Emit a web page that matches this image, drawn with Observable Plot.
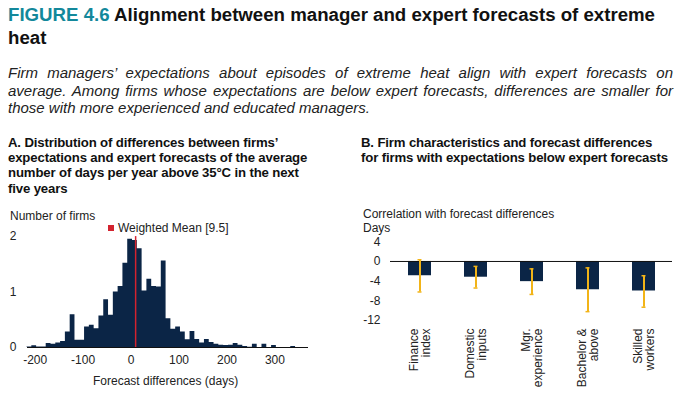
<!DOCTYPE html>
<html><head><meta charset="utf-8">
<script src="https://cdn.jsdelivr.net/npm/d3@7"></script>
<script src="https://cdn.jsdelivr.net/npm/@observablehq/plot@0.6"></script>
<style>
body{margin:0;background:#fff;}
#root{position:relative;width:682px;height:394px;overflow:hidden;font-family:"Liberation Sans",Arial,Helvetica,sans-serif;color:#111;}
.abs{position:absolute;white-space:nowrap;}
#title{left:8px;top:4px;font-weight:bold;font-size:18px;line-height:23px;color:#111;transform-origin:0 0;}
#title .fig{color:#13889b;}
#sub{left:8px;top:64px;width:665px;font-style:italic;font-size:15px;line-height:17.6px;color:#222;}
#sub div{text-align:justify;text-align-last:justify;}
#sub div.last{text-align-last:left;}
.ptitle{font-weight:bold;font-size:13.2px;line-height:15.2px;letter-spacing:-0.15px;color:#111;}
.lab{font-size:12px;line-height:14px;color:#222;}
#chartA{position:absolute;left:0;top:200px;}
#chartB{position:absolute;left:340px;top:200px;}
</style></head>
<body><div id="root">
<div id="title" class="abs"><span id="t1"><span class="fig">FIGURE 4.6</span> Alignment between manager and expert forecasts of extreme</span><br>heat</div>
<div id="sub" class="abs">
<div>Firm managers’ expectations about episodes of extreme heat align with expert forecasts on</div>
<div>average. Among firms whose expectations are below expert forecasts, differences are smaller for</div>
<div class="last">those with more experienced and educated managers.</div>
</div>
<div class="abs ptitle" style="left:8px;top:135px;">A. Distribution of differences between firms’<br>expectations and expert forecasts of the average<br>number of days per year above 35°C in the next<br>five years</div>
<div class="abs ptitle" style="left:361px;top:135px;">B. Firm characteristics and forecast differences<br>for firms with expectations below expert forecasts</div>
<div id="chartA"></div>
<div id="chartB"></div>
<div class="abs lab" style="left:10px;top:209px;">Number of firms</div>
<div class="abs lab" style="left:108px;top:221px;"><span style="display:inline-block;width:6px;height:6px;background:#d3232f;margin-right:4px;vertical-align:1px;"></span>Weighted Mean [9.5]</div>
<div class="abs lab" style="left:93px;top:374px;">Forecast differences (days)</div>
<div class="abs lab" style="left:363px;top:207px;">Correlation with forecast differences<br>Days</div>
</div>
<script>
// Panel A: histogram (lower bin edge in days, number of firms)
const binLo = [-217,-207,-197,-187,-177,-167,-157,-147,-137,-127,-117,-107,-97,-87,-77,-67,-57,-47,-37,-27,-17,-7,3,13,23,33,43,53,63,73,83,93,103,113,123,133,143,153,163,173,183,193,203,213,223,233,243,253,263,273,283,293,303,313,323,333];
const firms = [0.01,0.03,0.01,0.01,0.07,0.06,0.08,0.11,0.28,0.59,0.13,0.13,0.37,0.40,0.34,0.57,0.86,0.58,1.00,1.10,1.52,1.95,1.93,1.78,1.02,1.23,1.10,1.09,1.56,0.52,0.33,0.37,0.28,0.14,0.29,0.145,0.08,0.145,0.09,0.06,0.04,0.035,0.04,0.07,0.04,0.018,0.005,0.06,0,0.06,0,0.036,0,0,0,0.018];
const binWidth = 10;
const weightedMean = 9.5;
const xTicksA = [-200,-100,0,100,200,300];
const yTicksA = [0,1,2];

// Panel B
const characteristics = ["Finance\nindex","Domestic\ninputs","Mgr.\nexperience","Bachelor &\nabove","Skilled\nworkers"];
const coef = [-2.9,-3.2,-4.1,-5.75,-6.0];
const ciLow = [-6.2,-5.4,-6.7,-10.2,-9.3];
const ciHigh = [0.35,-1.0,-1.5,-1.3,-2.9];
const yTicksB = [-12,-8,-4,0,4];

// fit the title's first line to the reference width
const t1 = document.getElementById("t1");
const w1 = t1.getBoundingClientRect().width;
document.getElementById("title").style.transform = `scaleX(${647 / w1})`;

const navy = "#0b2546";
// step outline of the histogram: each bin's lower edge, closed at the last bin's upper edge
const hist = binLo.map((lo,i)=>({x:lo, y:firms[i]}));
hist.push({x: binLo[binLo.length-1] + binWidth, y: 0});

const A = Plot.plot({
  width:330, height:194,
  marginLeft:27, marginRight:22, marginTop:25, marginBottom:47,
  style:{fontFamily:"Liberation Sans, Arial, sans-serif", fontSize:"12px", color:"#222", background:"transparent"},
  x:{domain:[-216,370], ticks:xTicksA, tickSize:0, tickPadding:8, tickFormat:d=>String(d), label:null},
  y:{domain:[0,2.2], ticks:yTicksA, tickSize:0, tickPadding:11, tickFormat:d=>String(d), label:null},
  marks:[
    Plot.areaY(hist,{x:"x", y:"y", curve:"step-after", fill:navy}),
    Plot.ruleY([0],{stroke:"#111", strokeWidth:1}),
    Plot.ruleX([weightedMean],{y1:0, y2:2, stroke:"#d3232f", strokeWidth:1.5})
  ]
});
document.getElementById("chartA").appendChild(A);

const tbl = characteristics.map((c,i)=>({c, v:coef[i], lo:ciLow[i], hi:ciHigh[i]}));
const B = Plot.plot({
  width:342, height:194,
  marginLeft:50, marginRight:10, marginTop:41.3, marginBottom:74,
  style:{fontFamily:"Liberation Sans, Arial, sans-serif", fontSize:"12px", color:"#222", background:"transparent"},
  x:{type:"band", domain:characteristics, paddingInner:0.59, paddingOuter:0.31, tickSize:0, tickPadding:8, tickRotate:-90, label:null},
  y:{domain:[-12,4], ticks:yTicksB, tickSize:0, tickPadding:10, tickFormat:d=>String(d), label:null},
  marks:[
    Plot.barY(tbl,{x:"c", y:"v", fill:navy}),
    Plot.ruleY([0],{stroke:"#111", strokeWidth:1}),
    Plot.ruleX(tbl,{x:"c", y1:"lo", y2:"hi", stroke:"#f2b418", strokeWidth:2}),
    Plot.tickY(tbl,{x:"c", y:"lo", stroke:"#f2b418", strokeWidth:1.5, insetLeft:9.5, insetRight:9.5}),
    Plot.tickY(tbl,{x:"c", y:"hi", stroke:"#f2b418", strokeWidth:1.5, insetLeft:9.5, insetRight:9.5})
  ]
});
document.getElementById("chartB").appendChild(B);
</script>
</body></html>
